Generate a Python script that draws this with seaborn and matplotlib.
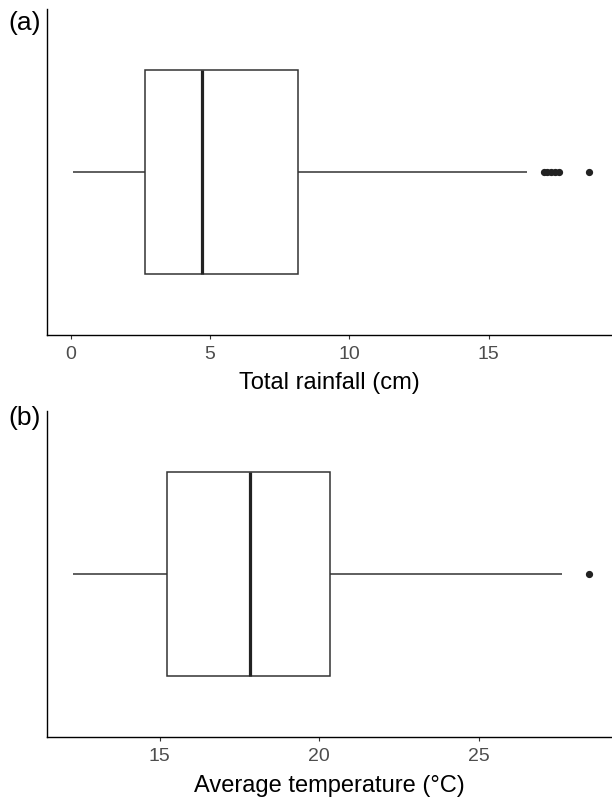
import matplotlib
matplotlib.use('Agg')
import matplotlib.pyplot as plt
import seaborn as sns

# values (quartiles/whiskers/outliers matched)
rainfall = [0.09, 0.4, 0.8, 1.1, 1.4, 1.7, 1.9, 2.1, 2.3, 2.5, 2.66,
            2.9, 3.1, 3.3, 3.5, 3.7, 3.9, 4.1, 4.3, 4.5, 4.72,
            5.0, 5.3, 5.6, 5.9, 6.2, 6.6, 7.0, 7.4, 7.8, 8.17,
            9.4, 11.2, 13.5, 16.37,
            16.98, 17.1, 17.24, 17.38, 17.51, 18.61]
temperature = [12.28, 12.9, 13.4, 13.7, 14.0, 14.2, 14.4, 14.6, 14.8, 15.0, 15.21,
               15.5, 15.8, 16.0, 16.3, 16.6, 16.9, 17.1, 17.4, 17.6, 17.83,
               18.1, 18.3, 18.6, 18.8, 19.1, 19.4, 19.6, 19.9, 20.1, 20.34,
               20.8, 21.3, 21.9, 22.6, 23.4, 24.3, 25.2, 26.3, 27.62, 28.46]

panel_labels = ['(a)', '(b)']
x_titles = ['Total rainfall (cm)', 'Average temperature (\u00b0C)']
x_ticks = [[0, 5, 10, 15], [15, 20, 25]]
x_limits = [(-0.84, 19.42), (11.47, 29.18)]

sns.set_style('white')
plt.rcParams['font.family'] = ['Liberation Sans', 'DejaVu Sans']

fig = plt.figure(figsize=(6.12, 7.99), dpi=100)
ax_a = fig.add_axes([0.0773, 0.5813, 0.9227, 0.4074])
ax_b = fig.add_axes([0.0773, 0.0772, 0.9227, 0.4088])

line_col = '#333333'
for i, (ax, vals) in enumerate([(ax_a, rainfall), (ax_b, temperature)]):
	sns.boxplot(x=vals, ax=ax, width=0.75, color='white', linecolor=line_col,
				linewidth=1.1, showcaps=False, whis=1.5,
				medianprops=dict(linewidth=2.3, color='#222222'),
				flierprops=dict(marker='o', markerfacecolor='#222222',
								markeredgecolor='#222222', markersize=4.2))
	ax.set_ylim(0.6, -0.6)
	ax.set_xlim(*x_limits[i])
	ax.set_xticks(x_ticks[i])
	ax.set_yticks([])
	for s in ['top', 'right']:
		ax.spines[s].set_visible(False)
	for s in ['left', 'bottom']:
		ax.spines[s].set_color('black')
		ax.spines[s].set_linewidth(1.0)
	ax.tick_params(axis='x', bottom=True, length=3, width=0.8, color=line_col,
				   labelcolor='#4D4D4D', labelsize=14, pad=5)
	ax.set_xlabel(x_titles[i], fontsize=17, color='black', labelpad=7)

fig.text(8 / 612, 1 - 11 / 799, panel_labels[0], fontsize=19, va='top', ha='left', color='black')
fig.text(8 / 612, 1 - 406 / 799, panel_labels[1], fontsize=19, va='top', ha='left', color='black')

fig.savefig('out.png', dpi=100)
